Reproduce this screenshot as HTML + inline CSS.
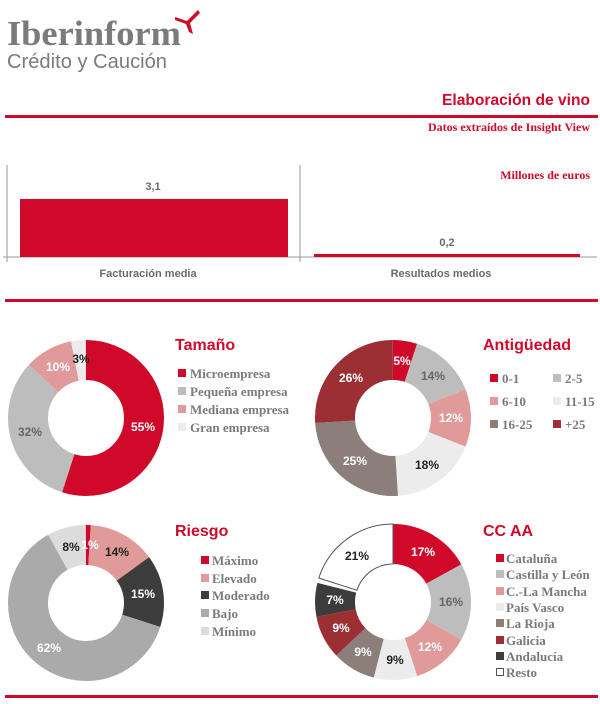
<!DOCTYPE html>
<html><head><meta charset="utf-8"><style>
html,body{margin:0;padding:0;background:#fff;}
svg{display:block;}
.t{font-family:"Liberation Sans",sans-serif;font-weight:bold;}
.s{font-family:"Liberation Serif",serif;font-weight:bold;}
.lg{font-family:"Liberation Serif",serif;font-weight:bold;font-size:13px;fill:#7a7a7a;}
.pl{font-family:"Liberation Sans",sans-serif;font-weight:bold;font-size:12px;text-anchor:middle;}
</style></head><body>
<svg width="600" height="704" viewBox="0 0 600 704" xmlns="http://www.w3.org/2000/svg">
<!-- header -->
<text x="7" y="45" class="s" font-size="35" fill="#7b7b7b" textLength="174" lengthAdjust="spacingAndGlyphs">Iberinform</text>
<text x="7" y="68" font-family="Liberation Sans,sans-serif" font-size="20" fill="#7b7b7b" textLength="160" lengthAdjust="spacingAndGlyphs">Crédito y Caución</text>
<path d="M175,17 L187,21 L198,10 L200,13 L190,23 L193,34 L189,32 L186,24 L175,20 Z" fill="#d0092b"/>
<text x="590" y="105" class="t" font-size="16" fill="#d0092b" text-anchor="end" textLength="148" lengthAdjust="spacingAndGlyphs">Elaboración de vino</text>
<rect x="5" y="115" width="593" height="3" fill="#d0092b"/>
<text x="590" y="131" class="s" font-size="12" fill="#d0092b" text-anchor="end">Datos extraídos de Insight View</text>
<!-- bar chart -->
<line x1="7" y1="165" x2="7" y2="262" stroke="#999" stroke-width="1"/>
<line x1="300" y1="165" x2="300" y2="262" stroke="#999" stroke-width="1"/>
<line x1="3" y1="257" x2="597" y2="257" stroke="#999" stroke-width="1"/>
<rect x="20" y="199" width="268" height="58" fill="#d0092b"/>
<rect x="314" y="254" width="266" height="3" fill="#d0092b"/>
<text x="590" y="179" class="s" font-size="12" fill="#d0092b" text-anchor="end">Millones de euros</text>
<text x="153" y="190" class="t" font-size="11" fill="#6a6a6a" text-anchor="middle">3,1</text>
<text x="447" y="246" class="t" font-size="11" fill="#6a6a6a" text-anchor="middle">0,2</text>
<text x="148" y="277" class="t" font-size="11" fill="#6a6a6a" text-anchor="middle">Facturación media</text>
<text x="441" y="277" class="t" font-size="11" fill="#6a6a6a" text-anchor="middle">Resultados medios</text>
<rect x="5" y="299" width="593" height="3" fill="#d0092b"/>

<!-- Tamaño -->
<g transform="translate(86,418) rotate(-90)" fill="none" stroke-width="40">
<circle r="58" pathLength="100" stroke="#d0092b" stroke-dasharray="55 45" stroke-dashoffset="0"/>
<circle r="58" pathLength="100" stroke="#bdbdbd" stroke-dasharray="32 68" stroke-dashoffset="-55"/>
<circle r="58" pathLength="100" stroke="#e09a9a" stroke-dasharray="10 90" stroke-dashoffset="-87"/>
<circle r="58" pathLength="100" stroke="#ececec" stroke-dasharray="3 97" stroke-dashoffset="-97"/>
</g>
<text x="143" y="431" class="pl" fill="#fff">55%</text>
<text x="30" y="436" class="pl" fill="#666">32%</text>
<text x="58" y="371" class="pl" fill="#fff">10%</text>
<text x="81" y="363" class="pl" fill="#222">3%</text>
<text x="175" y="350" class="t" font-size="16" fill="#d0092b">Tamaño</text>
<rect x="178" y="369" width="8" height="8" fill="#d0092b"/><text x="190" y="378" class="lg">Microempresa</text>
<rect x="178" y="387" width="8" height="8" fill="#bdbdbd"/><text x="190" y="396" class="lg">Pequeña empresa</text>
<rect x="178" y="405" width="8" height="8" fill="#e09a9a"/><text x="190" y="414" class="lg">Mediana empresa</text>
<rect x="178" y="423" width="8" height="8" fill="#ececec"/><text x="190" y="432" class="lg">Gran empresa</text>

<!-- Antigüedad -->
<g transform="translate(393,418) rotate(-90)" fill="none" stroke-width="40">
<circle r="58" pathLength="100" stroke="#d0092b" stroke-dasharray="5 95" stroke-dashoffset="0"/>
<circle r="58" pathLength="100" stroke="#bdbdbd" stroke-dasharray="14 86" stroke-dashoffset="-5"/>
<circle r="58" pathLength="100" stroke="#e09a9a" stroke-dasharray="12 88" stroke-dashoffset="-19"/>
<circle r="58" pathLength="100" stroke="#ececec" stroke-dasharray="18 82" stroke-dashoffset="-31"/>
<circle r="58" pathLength="100" stroke="#8c7e78" stroke-dasharray="25 75" stroke-dashoffset="-49"/>
<circle r="58" pathLength="100" stroke="#9b2f33" stroke-dasharray="26 74" stroke-dashoffset="-74"/>
</g>
<text x="402" y="365" class="pl" fill="#fff">5%</text>
<text x="433" y="380" class="pl" fill="#666">14%</text>
<text x="451" y="422" class="pl" fill="#fff">12%</text>
<text x="427" y="469" class="pl" fill="#222">18%</text>
<text x="355" y="465" class="pl" fill="#fff">25%</text>
<text x="351" y="382" class="pl" fill="#fff">26%</text>
<text x="483" y="350" class="t" font-size="16" fill="#d0092b">Antigüedad</text>
<rect x="490" y="374" width="8" height="8" fill="#d0092b"/><text x="502" y="383" class="lg">0-1</text>
<rect x="553" y="374" width="8" height="8" fill="#bdbdbd"/><text x="565" y="383" class="lg">2-5</text>
<rect x="490" y="397" width="8" height="8" fill="#e09a9a"/><text x="502" y="406" class="lg">6-10</text>
<rect x="553" y="397" width="8" height="8" fill="#ececec"/><text x="565" y="406" class="lg">11-15</text>
<rect x="490" y="420" width="8" height="8" fill="#8c7e78"/><text x="502" y="429" class="lg">16-25</text>
<rect x="553" y="420" width="8" height="8" fill="#9b2f33"/><text x="565" y="429" class="lg">+25</text>

<!-- Riesgo -->
<g transform="translate(86,603) rotate(-90)" fill="none" stroke-width="40">
<circle r="58" pathLength="100" stroke="#d0092b" stroke-dasharray="1 99" stroke-dashoffset="0"/>
<circle r="58" pathLength="100" stroke="#e09a9a" stroke-dasharray="14 86" stroke-dashoffset="-1"/>
<circle r="58" pathLength="100" stroke="#3c3c3c" stroke-dasharray="15 85" stroke-dashoffset="-15"/>
<circle r="58" pathLength="100" stroke="#aaaaaa" stroke-dasharray="62 38" stroke-dashoffset="-30"/>
<circle r="58" pathLength="100" stroke="#dcdcdc" stroke-dasharray="8 92" stroke-dashoffset="-92"/>
</g>
<text x="90" y="549" class="pl" fill="#fff">1%</text>
<text x="117" y="556" class="pl" fill="#222">14%</text>
<text x="143" y="598" class="pl" fill="#fff">15%</text>
<text x="49" y="652" class="pl" fill="#fff">62%</text>
<text x="71" y="551" class="pl" fill="#222">8%</text>
<text x="175" y="536" class="t" font-size="16" fill="#d0092b">Riesgo</text>
<rect x="201" y="556" width="8" height="8" fill="#d0092b"/><text x="212" y="565" class="lg">Máximo</text>
<rect x="201" y="574" width="8" height="8" fill="#e09a9a"/><text x="212" y="583" class="lg">Elevado</text>
<rect x="201" y="591" width="8" height="8" fill="#3c3c3c"/><text x="212" y="600" class="lg">Moderado</text>
<rect x="201" y="609" width="8" height="8" fill="#aaaaaa"/><text x="212" y="618" class="lg">Bajo</text>
<rect x="201" y="627" width="8" height="8" fill="#dcdcdc"/><text x="212" y="636" class="lg">Mínimo</text>

<!-- CC AA -->
<g transform="translate(393,602) rotate(-90)" fill="none" stroke-width="40">
<circle r="58" pathLength="100" stroke="#d0092b" stroke-dasharray="17 83" stroke-dashoffset="0"/>
<circle r="58" pathLength="100" stroke="#bdbdbd" stroke-dasharray="16 84" stroke-dashoffset="-17"/>
<circle r="58" pathLength="100" stroke="#e09a9a" stroke-dasharray="12 88" stroke-dashoffset="-33"/>
<circle r="58" pathLength="100" stroke="#ececec" stroke-dasharray="9 91" stroke-dashoffset="-45"/>
<circle r="58" pathLength="100" stroke="#8c7e78" stroke-dasharray="9 91" stroke-dashoffset="-54"/>
<circle r="58" pathLength="100" stroke="#9b2f33" stroke-dasharray="9 91" stroke-dashoffset="-63"/>
<circle r="58" pathLength="100" stroke="#3c3c3c" stroke-dasharray="7 93" stroke-dashoffset="-72"/>
</g>
<path d="M393,524 A78,78 0 0 0 318.8,578 L356.9,590.3 A38,38 0 0 1 393,564 Z" fill="#fff" stroke="#555" stroke-width="1"/>
<text x="423" y="556" class="pl" fill="#fff">17%</text>
<text x="451" y="606" class="pl" fill="#666">16%</text>
<text x="430" y="651" class="pl" fill="#fff">12%</text>
<text x="395" y="664" class="pl" fill="#222">9%</text>
<text x="363" y="656" class="pl" fill="#fff">9%</text>
<text x="341" y="632" class="pl" fill="#fff">9%</text>
<text x="335" y="604" class="pl" fill="#fff">7%</text>
<text x="357" y="560" class="pl" fill="#222">21%</text>
<text x="483" y="536" class="t" font-size="16" fill="#d0092b">CC AA</text>
<rect x="496" y="554" width="8" height="8" fill="#d0092b"/><text x="506" y="563" class="lg">Cataluña</text>
<rect x="496" y="570" width="8" height="8" fill="#bdbdbd"/><text x="506" y="579" class="lg">Castilla y León</text>
<rect x="496" y="587" width="8" height="8" fill="#e09a9a"/><text x="506" y="596" class="lg">C.-La Mancha</text>
<rect x="496" y="603" width="8" height="8" fill="#ececec"/><text x="506" y="612" class="lg">País Vasco</text>
<rect x="496" y="619" width="8" height="8" fill="#8c7e78"/><text x="506" y="628" class="lg">La Rioja</text>
<rect x="496" y="636" width="8" height="8" fill="#9b2f33"/><text x="506" y="645" class="lg">Galicia</text>
<rect x="496" y="652" width="8" height="8" fill="#3c3c3c"/><text x="506" y="661" class="lg">Andalucía</text>
<rect x="496.5" y="668.5" width="7" height="7" fill="#fff" stroke="#555" stroke-width="1"/><text x="506" y="677" class="lg">Resto</text>

<rect x="5" y="695" width="593" height="3" fill="#d0092b"/>
</svg>
</body></html>
